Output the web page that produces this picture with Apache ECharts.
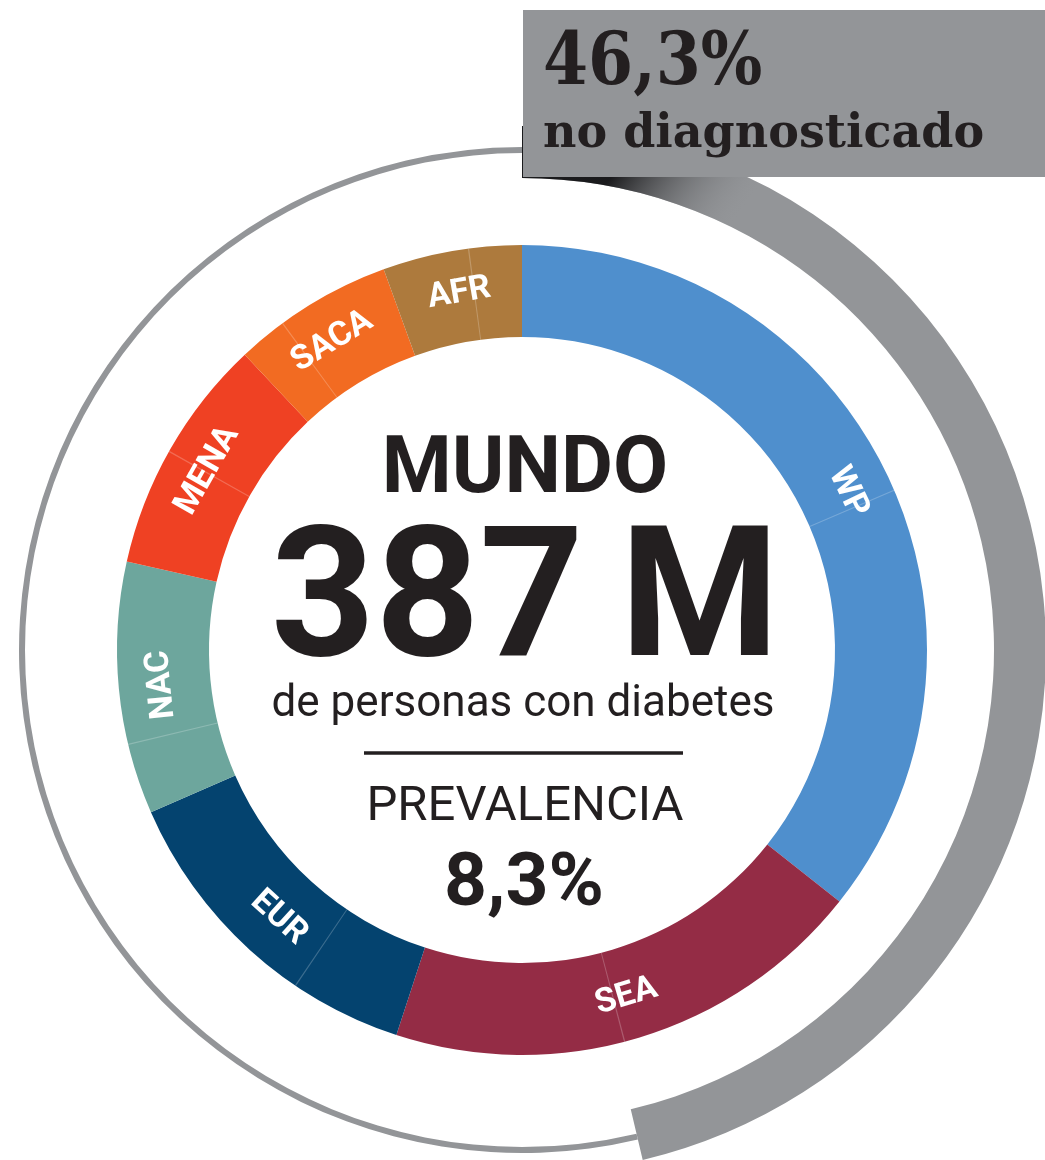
<!DOCTYPE html>
<html>
<head>
<meta charset="utf-8">
<script src="https://cdn.jsdelivr.net/npm/echarts@6/dist/echarts.min.js"></script>
<style>
  html, body { margin: 0; padding: 0; background: #fff; overflow: hidden; }
  #chart { width: 1045px; height: 1160px; }
</style>
</head>
<body>
<div id="chart"></div>
<script>
// diabetes by IDF region, millions of people (2014)
const regions = ["WP", "SEA", "EUR", "NAC", "MENA", "SACA", "AFR"];
const diabetesMillions = [138.2, 75.0, 52.0, 39.0, 36.8, 25.0, 21.5];
// share of each region that is undiagnosed (first part of each slice, clockwise)
const undiagnosedShare = [0.52, 0.53, 0.33, 0.28, 0.49, 0.30, 0.62];
const regionColors = ["#4f8fcd", "#942c45", "#04436f", "#6da69d", "#ef4123", "#f26b22", "#ad7a3d"];

const worldUndiagnosed = [46.3, 53.7]; // % undiagnosed / diagnosed
const undiagnosedLabel = "46,3%";
const totalLabel = ["387", "M"];
const prevalenceLabel = "8,3%";

const GRAY = "#939598";
const INK = "#231f20";
const CX = 522, CY = 650;

const total = diabetesMillions.reduce((s, v) => s + v, 0);

// tangential label rotation, flipped on the lower half so it stays readable
let cum = 0;
const regionData = regions.map((name, i) => {
  const v = diabetesMillions[i];
  const mid = (cum + v / 2) / total * 360;
  cum += v;
  let rot = -mid;
  if (mid > 90 && mid < 255) rot += 180;
  while (rot <= -180) rot += 360;
  while (rot > 180) rot -= 360;
  return {
    name,
    value: v,
    itemStyle: { color: regionColors[i] },
    label: { rotate: rot },
  };
});

// faint divider between undiagnosed and diagnosed parts of each region
const gap = total * 0.0005;
const dividerData = [];
diabetesMillions.forEach((v, i) => {
  const u = v * undiagnosedShare[i];
  dividerData.push({ value: u - gap / 2, itemStyle: { color: "transparent" } });
  dividerData.push({ value: gap, itemStyle: { color: "rgba(255,255,255,0.22)" } });
  dividerData.push({ value: v - u - gap / 2, itemStyle: { color: "transparent" } });
});

// dark shading where the arc slides under the label box
const arcShade = {
  type: "linear", x: 615, y: 172, x2: 715, y2: 248, global: true,
  colorStops: [
    { offset: 0, color: "rgba(20,20,22,0.95)" },
    { offset: 1, color: "rgba(147,149,152,0)" },
  ],
};

const base = {
  type: "pie",
  center: [CX, CY],
  startAngle: 90,
  clockwise: true,
  silent: true,
  animation: false,
  avoidLabelOverlap: false,
  label: { show: false },
  labelLine: { show: false },
  emphasis: { disabled: true },
  itemStyle: { borderWidth: 0 },
};

const chart = echarts.init(document.getElementById("chart"), null, { renderer: "canvas" });

chart.setOption({
  backgroundColor: "#fff",
  series: [
    {
      ...base,
      name: "diagnosticado",
      radius: [497, 503],
      data: [
        { value: worldUndiagnosed[0], itemStyle: { color: "rgba(0,0,0,0)" } },
        { value: worldUndiagnosed[1], itemStyle: { color: GRAY } },
      ],
    },
    {
      ...base,
      name: "no diagnosticado",
      radius: [472, 524],
      z: 3,
      data: [
        { value: worldUndiagnosed[0], itemStyle: { color: GRAY } },
        { value: worldUndiagnosed[1], itemStyle: { color: "rgba(0,0,0,0)" } },
      ],
    },
    {
      ...base,
      name: "sombra",
      radius: [472, 524],
      z: 4,
      data: [
        { value: worldUndiagnosed[0], itemStyle: { color: arcShade } },
        { value: worldUndiagnosed[1], itemStyle: { color: "rgba(0,0,0,0)" } },
      ],
    },
    {
      ...base,
      name: "regiones",
      radius: [313, 405],
      label: {
        show: true,
        position: "inside",
        formatter: "{b}",
        color: "#fff",
        fontFamily: "Roboto",
        fontWeight: "bold",
        fontSize: 34,
      },
      data: regionData,
    },
    {
      ...base,
      name: "division",
      radius: [313, 405],
      z: 3,
      data: dividerData,
    },
  ],
  graphic: [
    {
      type: "rect", z: 100,
      shape: { x: 523, y: 10, width: 530, height: 167 },
      style: { fill: GRAY },
    },
    {
      type: "text", z: 101, x: 543, y: 65,
      style: {
        text: undiagnosedLabel, fill: INK, font: 'bold 72px "DejaVu Serif Condensed", "DejaVu Serif"',
        textAlign: "left", textVerticalAlign: "middle",
      },
    },
    {
      type: "text", z: 101, x: 543, y: 135,
      style: {
        text: "no diagnosticado", fill: INK, font: 'bold 46px "DejaVu Serif"',
        textAlign: "left", textVerticalAlign: "middle",
      },
    },
    {
      type: "text", z: 101, x: CX + 3, y: 472,
      style: {
        text: "MUNDO", fill: INK, font: 'bold 80px Roboto',
        textAlign: "center", textVerticalAlign: "middle",
      },
    },
    {
      type: "text", z: 101, x: 584, y: 609,
      style: {
        text: totalLabel[0], fill: INK, font: 'bold 182px Roboto',
        textAlign: "right", textVerticalAlign: "middle",
      },
    },
    {
      type: "text", z: 101, x: 620, y: 609,
      style: {
        text: totalLabel[1], fill: INK, font: 'bold 182px Roboto',
        textAlign: "left", textVerticalAlign: "middle",
      },
    },
    {
      type: "text", z: 101, x: CX + 1, y: 705,
      style: {
        text: "de personas con diabetes", fill: INK, font: '44px Roboto',
        textAlign: "center", textVerticalAlign: "middle",
      },
    },
    {
      type: "line", z: 101,
      shape: { x1: 364, y1: 753, x2: 683, y2: 753 },
      style: { stroke: INK, lineWidth: 3.5 },
    },
    {
      type: "text", z: 101, x: CX + 3, y: 808,
      style: {
        text: "PREVALENCIA", fill: INK, font: '49px Roboto',
        textAlign: "center", textVerticalAlign: "middle",
      },
    },
    {
      type: "text", z: 101, x: CX + 2, y: 886,
      style: {
        text: prevalenceLabel, fill: INK, font: 'bold 75px Roboto',
        textAlign: "center", textVerticalAlign: "middle",
      },
    },
  ],
});
</script>
</body>
</html>
